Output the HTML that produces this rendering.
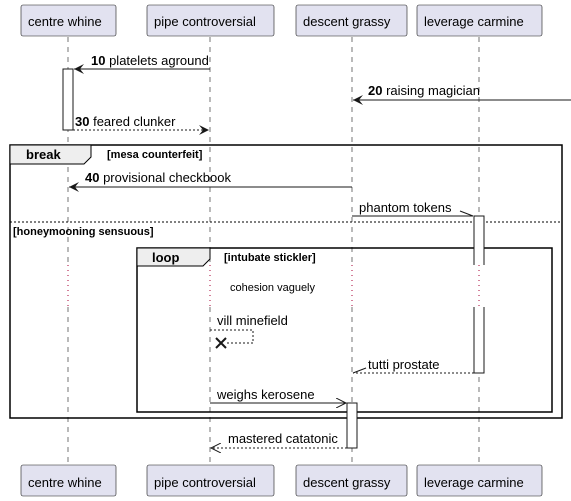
<!DOCTYPE html>
<html><head><style>body{margin:0;background:#fff}svg{display:block}text{font-family:"Liberation Sans",sans-serif;font-size:13px;fill:#000}</style></head><body>
<svg width="571" height="501" viewBox="0 0 571 501" xmlns="http://www.w3.org/2000/svg">
<defs>
<marker id="fa" markerWidth="12" markerHeight="10" refX="10" refY="5" orient="auto" markerUnits="userSpaceOnUse"><path d="M0,0 L10,5 L0,10 L4,5 Z" fill="#181818"/></marker>
<marker id="oa" markerWidth="12" markerHeight="10" refX="10" refY="5" orient="auto" markerUnits="userSpaceOnUse"><path d="M0,0 L10,5 L0,10" fill="none" stroke="#181818"/></marker>
</defs>
<g stroke="#181818" stroke-width="0.6" stroke-dasharray="5,5">
<line x1="68" y1="37" x2="68" y2="265"/><line x1="68" y1="307" x2="68" y2="465"/>
<line x1="210" y1="37" x2="210" y2="265"/><line x1="210" y1="307" x2="210" y2="465"/>
<line x1="352" y1="37" x2="352" y2="265"/><line x1="352" y1="307" x2="352" y2="465"/>
<line x1="479" y1="37" x2="479" y2="265"/><line x1="479" y1="307" x2="479" y2="465"/>
</g>
<g stroke="#a80036" stroke-width="1" stroke-dasharray="1,4">
<line x1="68" y1="265" x2="68" y2="307"/><line x1="210" y1="265" x2="210" y2="307"/>
<line x1="352" y1="265" x2="352" y2="307"/><line x1="479" y1="265" x2="479" y2="307"/>
</g>
<g fill="#e2e2f0" stroke="#181818" stroke-width="0.6">
<rect x="21" y="5" width="95" height="31" rx="2"/><rect x="147" y="5" width="127" height="31" rx="2"/>
<rect x="296" y="5" width="111" height="31" rx="2"/><rect x="417" y="5" width="125" height="31" rx="2"/>
<rect x="21" y="465" width="95" height="31" rx="2"/><rect x="147" y="465" width="127" height="31" rx="2"/>
<rect x="296" y="465" width="111" height="31" rx="2"/><rect x="417" y="465" width="125" height="31" rx="2"/>
</g>
<g style="font-size:14px">
<text x="28" y="26">centre whine</text><text x="154" y="26">pipe controversial</text>
<text x="303" y="26">descent grassy</text><text x="424" y="26">leverage carmine</text>
<text x="28" y="487">centre whine</text><text x="154" y="487">pipe controversial</text>
<text x="303" y="487">descent grassy</text><text x="424" y="487">leverage carmine</text>
</g>
<rect x="10" y="145" width="552" height="273" fill="none" stroke="#000" stroke-width="1.5"/>
<path d="M10,145 L91,145 L91,157 L84,164 L10,164 Z" fill="#eee" stroke="#000" stroke-width="1"/>
<text x="26" y="159" style="font-weight:bold">break</text>
<text x="107" y="158" style="font-weight:bold;font-size:11px">[mesa counterfeit]</text>
<line x1="10" y1="222" x2="562" y2="222" stroke="#000" stroke-width="1" stroke-dasharray="2,2"/>
<text x="13" y="235" style="font-weight:bold;font-size:11px">[honeymooning sensuous]</text>
<rect x="137" y="248" width="415" height="164" fill="none" stroke="#000" stroke-width="1.5"/>
<path d="M137,248 L210,248 L210,259 L203,266 L137,266 Z" fill="#eee" stroke="#000" stroke-width="1"/>
<text x="152" y="262" style="font-weight:bold">loop</text>
<text x="224" y="261" style="font-weight:bold;font-size:11px">[intubate stickler]</text>
<rect x="63" y="69" width="10" height="61" fill="#fff" stroke="#181818" stroke-width="1"/>
<rect x="474" y="216" width="10" height="49" fill="#fff" stroke="none"/>
<path d="M474,265 L474,216 L484,216 L484,265" fill="none" stroke="#181818" stroke-width="1"/>
<rect x="474" y="307" width="10" height="66" fill="#fff" stroke="none"/>
<path d="M474,307 L474,373 L484,373 L484,307" fill="none" stroke="#181818" stroke-width="1"/>
<rect x="347" y="403" width="10" height="45" fill="#fff" stroke="#181818" stroke-width="1"/>
<line x1="210" y1="69" x2="74" y2="69" stroke="#181818" stroke-width="1" marker-end="url(#fa)"/>
<text x="91" y="65"><tspan font-weight="bold">10</tspan> platelets aground</text>
<line x1="571" y1="100" x2="353" y2="100" stroke="#181818" stroke-width="1" marker-end="url(#fa)"/>
<text x="368" y="95"><tspan font-weight="bold">20</tspan> raising magician</text>
<line x1="73" y1="130" x2="209" y2="130" stroke="#181818" stroke-width="1" stroke-dasharray="2,2" marker-end="url(#fa)"/>
<text x="75" y="126"><tspan font-weight="bold">30</tspan> feared clunker</text>
<line x1="352" y1="187" x2="69" y2="187" stroke="#181818" stroke-width="1" marker-end="url(#fa)"/>
<text x="85" y="182"><tspan font-weight="bold">40</tspan> provisional checkbook</text>
<line x1="352" y1="216" x2="473" y2="216" stroke="#181818" stroke-width="1"/>
<line x1="473" y1="216" x2="460" y2="211" stroke="#181818" stroke-width="1"/>
<text x="359" y="212">phantom tokens</text>
<text x="230" y="291" style="font-size:11px">cohesion vaguely</text>
<text x="217" y="325">vill minefield</text>
<path d="M210,330 L253,330 L253,343 L226,343" fill="none" stroke="#181818" stroke-width="1" stroke-dasharray="2,2"/>
<path d="M216,338 L226,348 M226,338 L216,348" stroke="#181818" stroke-width="2"/>
<line x1="474" y1="373" x2="353" y2="373" stroke="#181818" stroke-width="1" stroke-dasharray="2,2"/>
<line x1="353" y1="373" x2="366" y2="368" stroke="#181818" stroke-width="1"/>
<text x="368" y="369">tutti prostate</text>
<line x1="210" y1="403" x2="346" y2="403" stroke="#181818" stroke-width="1" marker-end="url(#oa)"/>
<text x="217" y="399">weighs kerosene</text>
<line x1="347" y1="448" x2="211" y2="448" stroke="#181818" stroke-width="1" stroke-dasharray="2,2" marker-end="url(#oa)"/>
<text x="228" y="443">mastered catatonic</text>
</svg>
</body></html>
